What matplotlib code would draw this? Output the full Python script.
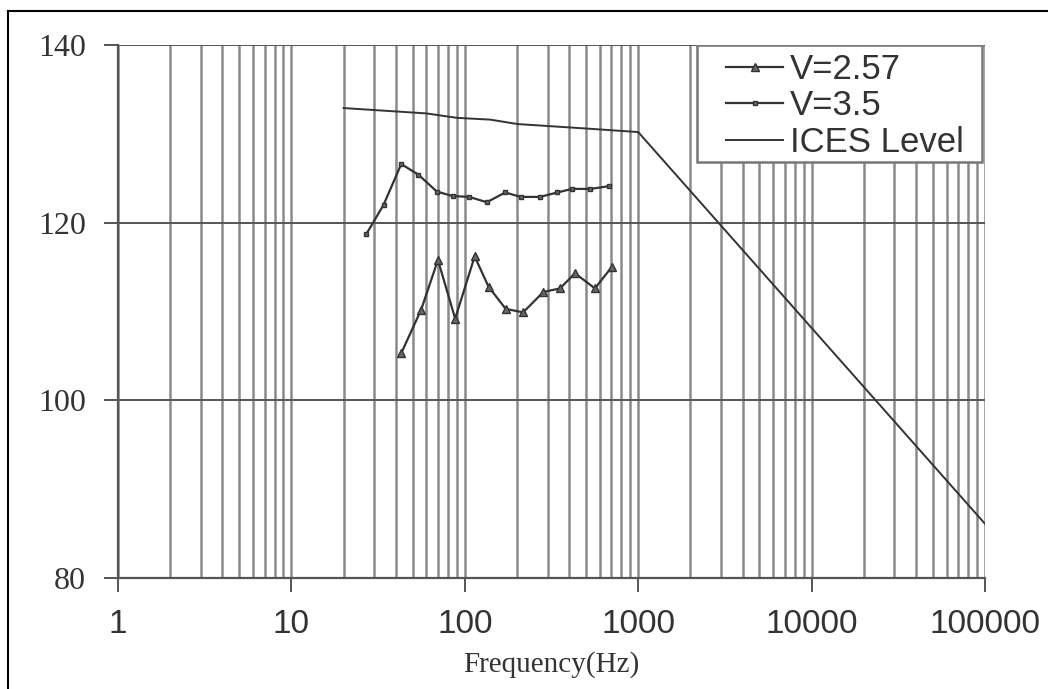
import numpy as np
import matplotlib.pyplot as plt
from matplotlib.lines import Line2D
from matplotlib.patches import Rectangle
from matplotlib.ticker import LogLocator, FixedLocator, NullFormatter

# V=2.57 measurements (triangles)
f_257 = [43, 56, 70, 88, 114, 137, 172, 217, 284, 354, 432, 563, 703]
v_257 = [105.3, 110.2, 115.8, 109.2, 116.2, 112.8, 110.3, 109.9, 112.2, 112.6, 114.3, 112.6, 115.0]

# V=3.5 measurements (small squares)
f_35 = [27, 34, 43, 54, 69, 85, 106, 134, 171, 210, 271, 342, 415, 530, 675]
v_35 = [118.7, 122.0, 126.6, 125.4, 123.5, 123.0, 122.9, 122.3, 123.4, 122.9, 122.9, 123.4, 123.8, 123.8, 124.1]

# ICES limit
f_ices = [20, 60, 90, 140, 202, 500, 1000, 100000]
v_ices = [132.9, 132.3, 131.8, 131.6, 131.1, 130.6, 130.2, 86.1]

x_ticks = [1, 10, 100, 1000, 10000, 100000]
x_labels = ["1", "10", "100", "1000", "10000", "100000"]
y_ticks = [80, 100, 120, 140]

fig = plt.figure(figsize=(10.48, 6.89), dpi=100)
ax = fig.add_axes([118 / 1048, 1 - 578 / 689, 867 / 1048, 533 / 689])

line_col = "#333333"
grid_col = "#8a8a8a"

ax.plot(f_257, v_257, color=line_col, lw=1.6, marker="^", ms=6,
        mfc="#666666", mec=line_col, label="V=2.57")
ax.plot(f_35, v_35, color=line_col, lw=1.6, marker="s", ms=3,
        mfc="#666666", mec=line_col, label="V=3.5")
ax.plot(f_ices, v_ices, color=line_col, lw=1.4, label="ICES Level")

ax.set_xscale("log")
ax.set_xlim(1, 100000)
ax.set_ylim(80, 140)

ax.xaxis.set_major_locator(FixedLocator(x_ticks))
ax.set_xticklabels(x_labels, family="Liberation Sans", fontsize=24, color="#333333")
ax.xaxis.set_minor_locator(LogLocator(base=10, subs=np.arange(2, 10), numticks=20))
ax.xaxis.set_minor_formatter(NullFormatter())
ax.set_yticks(y_ticks)
ax.set_yticklabels([str(v) for v in y_ticks], family="Liberation Serif", fontsize=23, color="#333333")

ax.grid(True, which="both", axis="x", color=grid_col, lw=1.8)
ax.grid(True, which="major", axis="y", color="#555555", lw=1.4)
ax.set_axisbelow(True)

ax.tick_params(axis="x", which="major", direction="out", length=10, width=1.4, color="#555555", pad=12)
ax.tick_params(axis="x", which="minor", length=0)
ax.tick_params(axis="y", direction="out", length=10, width=1.4, color="#555555", pad=13)

for s in ["top", "right"]:
    ax.spines[s].set_visible(False)
for s in ["left", "bottom"]:
    ax.spines[s].set_color("#555555")
    ax.spines[s].set_linewidth(1.6)

ax.set_xlabel("Frequency(Hz)", family="Liberation Serif", fontsize=21, color="#333333", labelpad=8)

# legend box drawn separately so the padding can match the original
ax.add_patch(Rectangle((0.6678, 0.7805), 0.9965 - 0.6678, 1 - 0.7805, transform=ax.transAxes,
                       facecolor="white", edgecolor="#777777", lw=1.8, zorder=4))
leg = ax.legend(loc="upper left", bbox_to_anchor=(0.7013, 0.985), borderaxespad=0,
                prop={"family": "Liberation Sans", "size": 25}, frameon=False,
                handlelength=1.65, handletextpad=0.2, labelspacing=0.1, borderpad=0)
leg.set_zorder(5)
for t in leg.get_texts():
    t.set_color("#333333")

# outer frame (left and top edges of the scanned box)
fig.add_artist(Line2D([8 / 1048, 8 / 1048], [0, 1 - 11 / 689], color="black", lw=1.5))
fig.add_artist(Line2D([8 / 1048, 1], [1 - 11 / 689, 1 - 11 / 689], color="black", lw=1.5))

fig.savefig("out.png", dpi=100)
